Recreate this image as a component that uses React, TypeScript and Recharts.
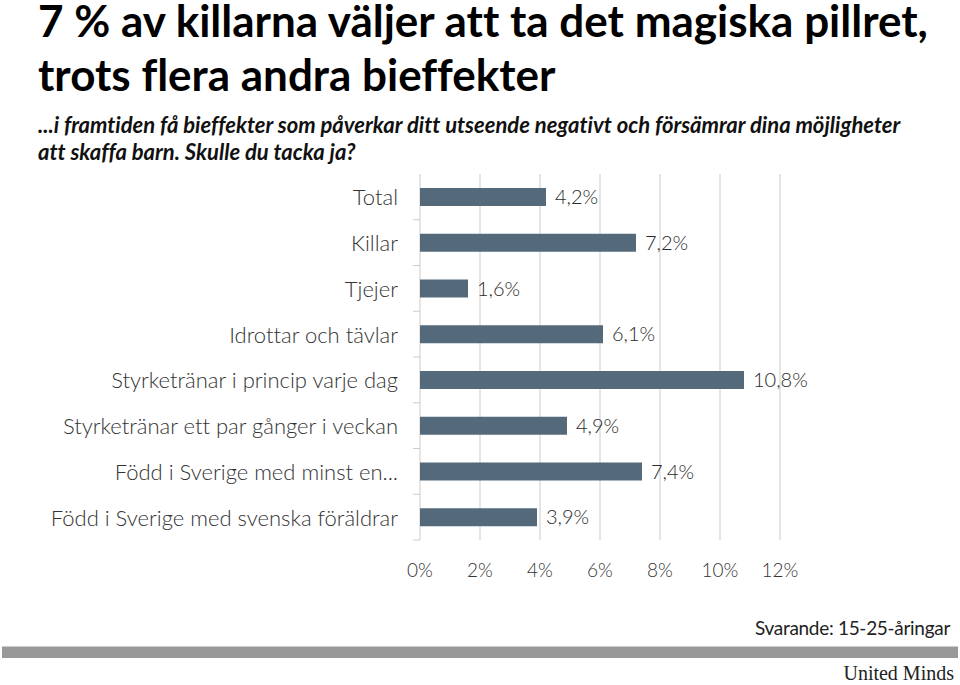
import { BarChart, Bar, XAxis, YAxis, CartesianGrid, LabelList } from 'recharts';

const categories = [
  'Total',
  'Killar',
  'Tjejer',
  'Idrottar och tävlar',
  'Styrketränar i princip varje dag',
  'Styrketränar ett par gånger i veckan',
  'Född i Sverige med minst en...',
  'Född i Sverige med svenska föräldrar',
];
const values = [4.2, 7.2, 1.6, 6.1, 10.8, 4.9, 7.4, 3.9];
const xTicks = [0, 2, 4, 6, 8, 10, 12];

const data = categories.map((name, i) => ({ name, value: values[i] }));

const BAND = 366 / categories.length;
const FONT = 'Lato, "Open Sans", sans-serif';

function CategoryTick(props: any) {
  const { x, y, payload } = props;
  return (
    <g>
      <text
        x={x - 22}
        y={y}
        textAnchor="end"
        dominantBaseline="central"
        fontFamily={FONT}
        fontWeight={300}
        fontSize={22}
        fill="#333"
      >
        {payload.value}
      </text>
      <line x1={x - 7} x2={x} y1={y + BAND / 2} y2={y + BAND / 2} stroke="#ccc" strokeWidth={1} />
    </g>
  );
}

const fmt = (v: number) => `${v.toFixed(1).replace('.', ',')}%`;

const titleStyle: any = {
  position: 'absolute', left: 38, fontSize: 44, fontWeight: 700, lineHeight: '36px',
  color: '#000', whiteSpace: 'nowrap',
};
const subStyle: any = {
  position: 'absolute', left: 38, fontSize: 22, fontWeight: 700, fontStyle: 'italic',
  lineHeight: '22px', color: '#111', whiteSpace: 'nowrap',
};

export default function App() {
  return (
    <div style={{ position: 'absolute', top: 0, left: 0, width: 960, height: 685, background: '#fff', fontFamily: FONT, fontVariantLigatures: 'none' }}>
      <div style={{ ...titleStyle, top: 2 }}>7 % av killarna väljer att ta det magiska pillret,</div>
      <div style={{ ...titleStyle, top: 56 }}>trots flera andra bieffekter</div>
      <div style={{ ...subStyle, top: 114 }}>
        ...i framtiden få bieffekter som påverkar ditt utseende negativt och försämrar dina möjligheter
      </div>
      <div style={{ ...subStyle, top: 141 }}>att skaffa barn. Skulle du tacka ja?</div>

      <div style={{ position: 'absolute', top: 0, left: 0 }}>
        <BarChart
          width={960}
          height={600}
          data={data}
          layout="vertical"
          margin={{ top: 174, right: 180, left: 0, bottom: 30 }}
        >
          <CartesianGrid vertical horizontal={false} stroke="#dcdcdc" strokeWidth={1.5} />
          <XAxis
            type="number"
            domain={[0, 12]}
            ticks={xTicks}
            tickFormatter={(v: number) => `${v}%`}
            axisLine={false}
            tickLine={false}
            tickSize={6}
            tickMargin={18}
            height={30}
            tick={{ fontSize: 19, fill: '#333', fontFamily: FONT, fontWeight: 300 }}
          />
          <YAxis
            type="category"
            dataKey="name"
            width={420}
            axisLine={false}
            tickLine={false}
            tickSize={0}
            tickMargin={0}
            interval={0}
            tick={<CategoryTick />}
          />
          <Bar dataKey="value" fill="#546a7a" barSize={18} isAnimationActive={false}>
            <LabelList
              dataKey="value"
              position="right"
              offset={9}
              fill="#333"
              formatter={(v: number) => fmt(v)}
              style={{ fontSize: 20, fill: '#2a2a2a', fontFamily: FONT, fontWeight: 300 }}
            />
          </Bar>
        </BarChart>
      </div>

      <div style={{ position: 'absolute', right: 10, top: 618, fontSize: 19, lineHeight: '19px', color: '#222', letterSpacing: -0.3 }}>
        Svarande: 15-25-åringar
      </div>
      <div style={{ position: 'absolute', left: 2, top: 646, width: 956, height: 11, background: '#999', borderTop: '1px solid #ccc' }} />
      <div style={{ position: 'absolute', right: 6, top: 665, fontSize: 20, lineHeight: '16px', color: '#222', fontFamily: '"Liberation Serif", serif' }}>
        United Minds
      </div>
    </div>
  );
}
